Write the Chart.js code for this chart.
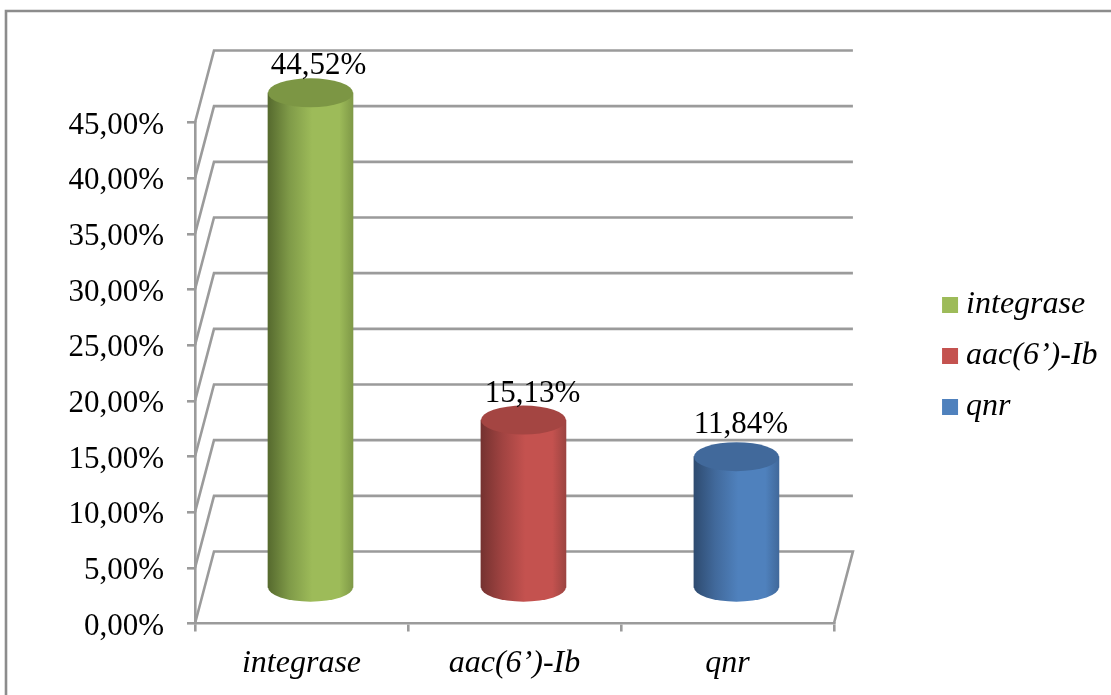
<!DOCTYPE html>
<html>
<head>
<meta charset="utf-8">
<title>Gene frequency</title>
<script src="https://cdn.jsdelivr.net/npm/chart.js@4/dist/chart.umd.min.js"></script>
<style>
    html, body { margin: 0; padding: 0; background: #fff; }
    canvas { display: block; }
</style>
</head>
<body>
<canvas id="genes" width="1111" height="695"></canvas>
<script>
// =====================
// DATA
// =====================
const categories = ["integrase", "aac(6’)-Ib", "qnr"];
const percentages = [44.52, 15.13, 11.84];
const axisMax = 45;
const axisStep = 5;

// face colours: [dark edge, mid, light, right edge, cap]
const greenShades = ["#566a2e", "#7f9a48", "#9dbb59", "#7f9947", "#7c9644"];
const redShades = ["#753230", "#a04341", "#c4524f", "#9c4441", "#a44542"];
const blueShades = ["#2e4b70", "#41699b", "#4f81bd", "#41699b", "#41699b"];
const shades = [greenShades, redShades, blueShades];

const formatPct = v => v.toFixed(2).replace(".", ",") + "%";

// =====================
// DEPTH SETTINGS
// =====================
const GRAY = "#9b9b9b";
const LINE = 2.6;
const FONT = "'Liberation Serif', serif";
const wallDx = 19, wallDy = 72;      // back wall offset from the front axes
const barDx = 9, barDy = 35;         // cylinders stand in the middle of the floor
const capRy = 14.5;
const labelShift = [8, 9, 4.5];      // value label x offset from each cylinder
const labelLift = [19, 18, 24];      // baseline above the top of each cylinder

function bodyGradient(ctx, x, half, colors) {
    const g = ctx.createLinearGradient(x - half, 0, x + half, 0);
    g.addColorStop(0, colors[0]);
    g.addColorStop(0.25, colors[1]);
    g.addColorStop(0.52, colors[2]);
    g.addColorStop(0.84, colors[2]);
    g.addColorStop(1, colors[3]);
    return g;
}

// page frame, only top and left are visible
const framePlugin = {
    id: "frame",
    beforeDraw(chart) {
        const ctx = chart.ctx;
        ctx.save();
        ctx.strokeStyle = "#8c8c8c";
        ctx.lineWidth = 2.6;
        ctx.beginPath();
        ctx.moveTo(6, 695);
        ctx.lineTo(6, 11);
        ctx.lineTo(1111, 11);
        ctx.stroke();
        ctx.restore();
    }
};

// slanted side wall, back wall gridlines and floor
const wallPlugin = {
    id: "walls",
    beforeDatasetsDraw(chart) {
        const { ctx, chartArea, scales } = chart;
        const left = chartArea.left, right = chartArea.right;
        ctx.save();
        ctx.strokeStyle = GRAY;
        ctx.lineWidth = LINE;
        ctx.lineJoin = "miter";
        scales.y.ticks.forEach(t => {
            const y = scales.y.getPixelForValue(t.value);
            ctx.beginPath();
            ctx.moveTo(left, y);
            ctx.lineTo(left + wallDx, y - wallDy);
            ctx.lineTo(right + wallDx, y - wallDy);
            if (t.value === 0) ctx.lineTo(right, y);
            ctx.stroke();
        });
        ctx.restore();
    }
};

// turns the flat bars into cylinders
const cylinderPlugin = {
    id: "cylinders",
    beforeDatasetDraw(chart, args) {
        const ctx = chart.ctx;
        ctx.save();
        ctx.translate(barDx, -barDy);
        args.meta.data.forEach((bar, i) => {
            const half = bar.width / 2;
            ctx.fillStyle = bodyGradient(ctx, bar.x, half, shades[i]);
            ctx.beginPath();
            ctx.ellipse(bar.x, bar.base, half, capRy, 0, 0, Math.PI * 2);
            ctx.fill();
        });
    },
    afterDatasetDraw(chart, args) {
        const ctx = chart.ctx;
        args.meta.data.forEach((bar, i) => {
            ctx.fillStyle = shades[i][4];
            ctx.beginPath();
            ctx.ellipse(bar.x, bar.y, bar.width / 2, capRy, 0, 0, Math.PI * 2);
            ctx.fill();
        });
        ctx.restore();

        // value labels
        ctx.save();
        ctx.fillStyle = "#000";
        ctx.font = "31px " + FONT;
        ctx.textAlign = "center";
        ctx.textBaseline = "alphabetic";
        args.meta.data.forEach((bar, i) => {
            ctx.fillText(formatPct(percentages[i]), bar.x + barDx + labelShift[i], bar.y - barDy - labelLift[i]);
        });
        ctx.restore();
    }
};

// legend sits beside the plot, not centred on it
const legendSpot = {
    id: "legendSpot",
    afterLayout(chart) {
        const l = chart.legend;
        l.left = 931;
        l.right = 1111;
        l.width = l.right - l.left;
        l.top = 17;
        l.bottom = 695;
        l.height = l.bottom - l.top;
    }
};

new Chart(document.getElementById("genes"), {
    type: "bar",
    data: {
        labels: categories,
        datasets: [{
            data: percentages,
            barThickness: 85,
            clip: false,
            borderWidth: 0,
            backgroundColor: c => {
                if (!c.chart.chartArea) return shades[c.dataIndex][2];
                const x = c.chart.scales.x.getPixelForValue(c.dataIndex);
                return bodyGradient(c.chart.ctx, x, 42.5, shades[c.dataIndex]);
            }
        }]
    },
    options: {
        responsive: false,
        animation: false,
        layout: { padding: { left: 0, top: 122.5, right: 100.5, bottom: 0 } },
        plugins: {
            tooltip: { enabled: false },
            title: { display: false },
            legend: {
                position: "right",
                labels: {
                    usePointStyle: true,
                    pointStyle: "rect",
                    boxWidth: 0.1,
                    boxHeight: 16,
                    padding: 19,
                    color: "#000",
                    font: { family: FONT, size: 32, style: "italic" },
                    generateLabels: () => categories.map((name, i) => ({
                        text: name,
                        fillStyle: shades[i][2],
                        strokeStyle: shades[i][2],
                        lineWidth: 0,
                        pointStyle: "rect",
                        hidden: false,
                        index: i
                    }))
                }
            }
        },
        scales: {
            x: {
                afterFit: s => { s.height = 71.5; },
                border: { color: GRAY, width: LINE },
                grid: { offset: true, drawOnChartArea: false, color: GRAY, lineWidth: LINE, tickLength: 8 },
                ticks: {
                    color: "#000",
                    padding: 13,
                    maxRotation: 0,
                    font: { family: FONT, size: 32, style: "italic" }
                }
            },
            y: {
                min: 0,
                max: axisMax,
                afterFit: s => { s.width = 195; },
                border: { color: GRAY, width: LINE },
                grid: { drawOnChartArea: false, color: GRAY, lineWidth: LINE, tickLength: 8 },
                ticks: {
                    stepSize: axisStep,
                    color: "#000",
                    padding: 23,
                    labelOffset: 3,
                    font: { family: FONT, size: 31 },
                    callback: v => formatPct(v)
                }
            }
        }
    },
    plugins: [framePlugin, wallPlugin, cylinderPlugin, legendSpot]
});
</script>
</body>
</html>
